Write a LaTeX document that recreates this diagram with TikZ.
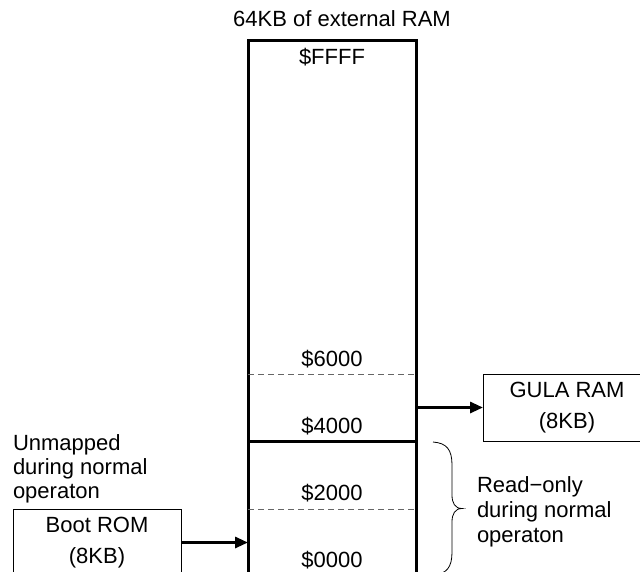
\documentclass[tikz,border=0pt]{standalone}
\usepackage{fontspec}
\setmainfont{Liberation Sans}
\usetikzlibrary{arrows.meta}
\begin{document}
\begin{tikzpicture}[x=1pt,y=-1pt,
  every node/.style={font=\fontsize{22}{31}\selectfont, inner sep=0pt, outer sep=0pt},
  addr/.style={anchor=base},
  note/.style={anchor=base west},
  ramframe/.style={draw, line width=3pt, minimum width=168pt, minimum height=536pt},
  membox/.style={draw, line width=1pt, align=center, minimum width=168pt, minimum height=67pt},
  dashsep/.style={draw=black!60, line width=1pt, dash pattern=on 6pt off 4pt},
  solidsep/.style={draw, line width=3pt},
  arr/.style={line width=3pt, -{Triangle[length=13pt,width=11pt]}},
  bracepath/.style={line width=0.8pt}]
\useasboundingbox (0,0) rectangle (640,571);
\clip (0,0) rectangle (640,571);

% main RAM column
\node[ramframe] (ram) at (332,308) {};
\node[addr] (title) at (342,26) {64KB of external RAM};
\node[addr] (aFFFF) at (332,64) {\$FFFF};
\node[addr] (a6000) at (332,366) {\$6000};
\node[addr] (a4000) at (332,433) {\$4000};
\node[addr] (a2000) at (332,500) {\$2000};
\node[addr] (a0000) at (332,567) {\$0000};

% separators
\coordinate (d6l) at (248,374); \coordinate (d6r) at (416,374);
\coordinate (s4l) at (248,441); \coordinate (s4r) at (416,441);
\coordinate (d2l) at (248,509); \coordinate (d2r) at (416,509);
\draw[dashsep] (d6l) -- (d6r);
\draw[solidsep] (s4l) -- (s4r);
\draw[dashsep] (d2l) -- (d2r);

% side boxes
\node[membox] (gula) at (567,407.5) {GULA RAM\\(8KB)};
\node[membox] (boot) at (97,542.5) {Boot ROM\\(8KB)};

\coordinate (gulafrom) at (416,407.5);
\coordinate (bootto) at (248,542.5);
\draw[arr] (gulafrom) -- (gula.west);
\draw[arr] (boot.east) -- (bootto);

% notes
\node[note] (un1) at (13,450) {Unmapped};
\node[note] (un2) at (13,474) {during normal};
\node[note] (un3) at (13,498) {operaton};

\node[note] (ro1) at (477,492) {Read−only};
\node[note] (ro2) at (477,517) {during normal};
\node[note] (ro3) at (477,542) {operaton};

% brace
\coordinate (bt) at (433,442);
\coordinate (btip) at (462,508.5);
\coordinate (bb) at (433,575);
\draw[bracepath] (bt) .. controls (447,443) and (452,450) .. (452,465)
  -- (452,495) .. controls (452,503) and (455,508.5) .. (btip)
  .. controls (455,508.5) and (452,514) .. (452,522)
  -- (452,552) .. controls (452,567) and (447,574) .. (bb);
\end{tikzpicture}
\end{document}
